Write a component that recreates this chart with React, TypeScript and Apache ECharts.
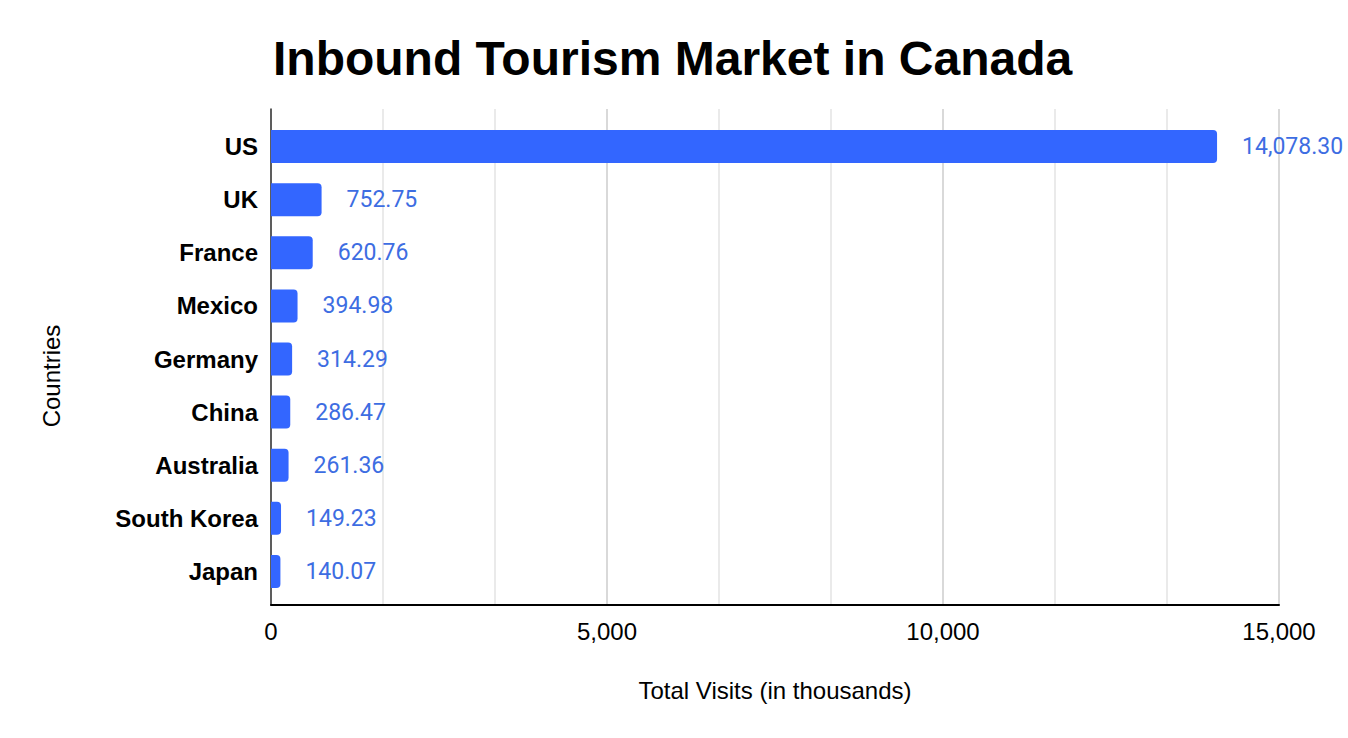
import { useEffect, useRef } from "react";
import * as echarts from "echarts";

const countries = ["US", "UK", "France", "Mexico", "Germany", "China", "Australia", "South Korea", "Japan"];
const visits = [14078.3, 752.75, 620.76, 394.98, 314.29, 286.47, 261.36, 149.23, 140.07];
const xTicks = [0, 5000, 10000, 15000];

const titleText = "Inbound Tourism Market in Canada";
const xName = "Total Visits (in thousands)";
const yName = "Countries";

const fmt = (v: number, digits = 0) =>
    v.toLocaleString("en-US", { minimumFractionDigits: digits, maximumFractionDigits: digits });

export default function App() {
    const chartRef = useRef<HTMLDivElement | null>(null);

    useEffect(() => {
        if (!chartRef.current) return;
        const chart = echarts.init(chartRef.current, undefined, { renderer: "svg" });

        const option: any = {
            animation: false,
            backgroundColor: "#ffffff",
            textStyle: { fontFamily: "Liberation Sans, Arial, sans-serif" },
            graphic: [
                {
                    type: "text",
                    left: 273,
                    top: 34,
                    style: {
                        text: titleText,
                        font: "bold 48px 'Liberation Sans', Arial, sans-serif",
                        fill: "#000000",
                    },
                },
                {
                    type: "text",
                    x: 775,
                    y: 690,
                    style: {
                        text: xName,
                        font: "24px 'Liberation Sans', Arial, sans-serif",
                        fill: "#000000",
                        textAlign: "center",
                        textVerticalAlign: "middle",
                    },
                },
                {
                    type: "text",
                    x: 51,
                    y: 376,
                    rotation: Math.PI / 2,
                    style: {
                        text: yName,
                        font: "24px 'Liberation Sans', Arial, sans-serif",
                        fill: "#000000",
                        textAlign: "center",
                        textVerticalAlign: "middle",
                    },
                },
            ],
            grid: [
                // frame: gridlines + axis lines
                { left: 271, right: 69, top: 109, bottom: 133 },
                // bars
                { left: 271, right: 69, top: 120, bottom: 140 },
            ],
            xAxis: [
                {
                    gridIndex: 0,
                    type: "value",
                    min: xTicks[0],
                    max: xTicks[xTicks.length - 1],
                    interval: xTicks[1] - xTicks[0],
                    axisLine: { show: true, onZero: false, lineStyle: { color: "#000000", width: 2 } },
                    axisTick: { show: false },
                    axisLabel: {
                        margin: 14,
                        fontSize: 24,
                        color: "#000000",
                        fontFamily: "Liberation Sans, Arial, sans-serif",
                        formatter: (v: number) => fmt(v),
                    },
                    splitLine: { show: true, lineStyle: { color: "#cccccc", width: 1.5 } },
                    minorTick: { show: false, splitNumber: 3 },
                    minorSplitLine: { show: true, lineStyle: { color: "#e3e3e3", width: 1.5 } },
                },
                {
                    gridIndex: 1,
                    type: "value",
                    min: xTicks[0],
                    max: xTicks[xTicks.length - 1],
                    show: false,
                },
            ],
            yAxis: [
                {
                    gridIndex: 0,
                    type: "value",
                    min: 0,
                    max: 1,
                    axisLine: { show: true, onZero: false, lineStyle: { color: "#333333", width: 1.5 } },
                    axisTick: { show: false },
                    axisLabel: { show: false },
                    splitLine: { show: false },
                },
                {
                    gridIndex: 1,
                    type: "category",
                    inverse: true,
                    data: countries,
                    axisLine: { show: false },
                    axisTick: { show: false },
                    axisLabel: {
                        margin: 13,
                        fontSize: 24,
                        fontWeight: "bold",
                        color: "#000000",
                        fontFamily: "Liberation Sans, Arial, sans-serif",
                    },
                },
            ],
            series: [
                {
                    type: "bar",
                    xAxisIndex: 1,
                    yAxisIndex: 1,
                    data: visits,
                    barWidth: 33,
                    itemStyle: { color: "#3366ff", borderRadius: [0, 4, 4, 0] },
                    label: {
                        show: true,
                        position: "right",
                        distance: 25,
                        fontSize: 23,
                        fontFamily: "Roboto, sans-serif",
                        color: "#3d6de2",
                        formatter: (p: any) => fmt(p.value, 2),
                    },
                },
            ],
        };

        chart.setOption(option);

        const handleResize = () => chart.resize();
        window.addEventListener("resize", handleResize);

        return () => {
            window.removeEventListener("resize", handleResize);
            chart.dispose();
        };
    }, []);

    return (
        <div
            ref={chartRef}
            style={{ position: "fixed", left: 0, top: 0, width: "1348px", height: "738px" }}
        />
    );
}
